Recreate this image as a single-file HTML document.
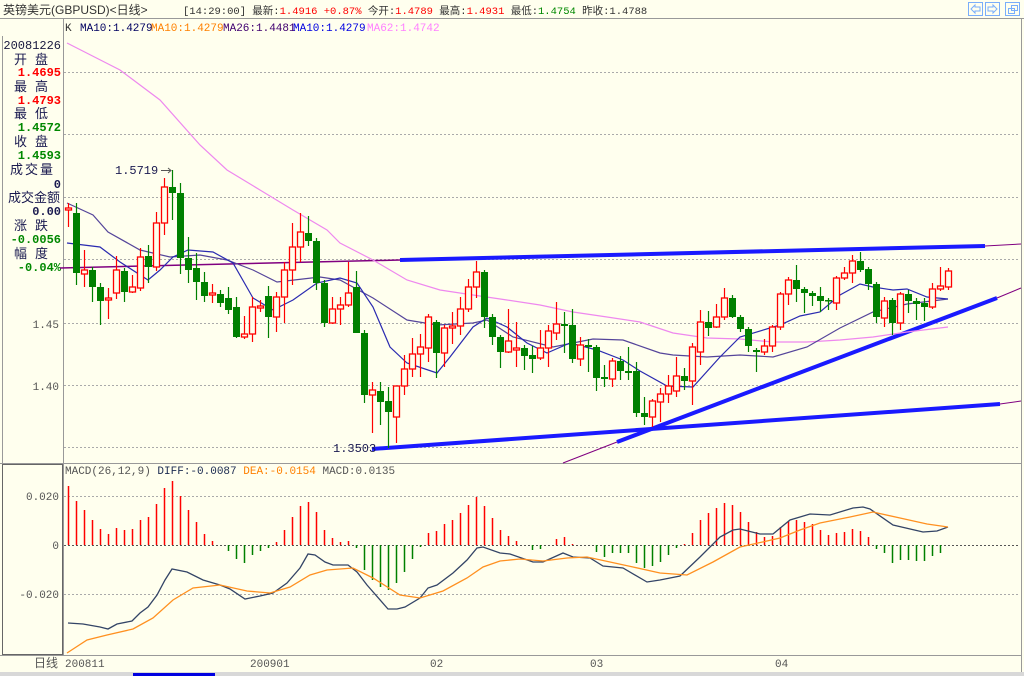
<!DOCTYPE html>
<html><head><meta charset="utf-8">
<style>
html,body{margin:0;padding:0;background:#FFFFEE;}
svg{display:block;}
text{font-family:"Liberation Mono","Noto Sans CJK SC",monospace;font-size:11px;}
.cn{font-family:"Liberation Sans","Noto Sans CJK SC",sans-serif;font-size:12px;}
.lab{font-family:"Liberation Sans","Noto Sans CJK SC",sans-serif;font-size:13px;fill:#1a1a50;}
.val{font-family:"Liberation Mono",monospace;font-size:12px;font-weight:bold;}
</style></head><body>
<svg id="s" width="1024" height="676" viewBox="0 0 1024 676" xmlns="http://www.w3.org/2000/svg">
<rect width="1024" height="676" fill="#FFFFEE"/>
<line x1="0" y1="18.5" x2="1024" y2="18.5" stroke="#999"/>
<line x1="63.5" y1="19" x2="63.5" y2="655" stroke="#999"/>
<line x1="1021.5" y1="19" x2="1021.5" y2="676" stroke="#999"/>
<line x1="2.5" y1="36" x2="2.5" y2="463" stroke="#999"/>
<line x1="0" y1="463.5" x2="1022" y2="463.5" stroke="#999"/>
<rect x="2.5" y="464.5" width="60" height="190" fill="none" stroke="#666"/>
<line x1="0" y1="655.5" x2="1022" y2="655.5" stroke="#999"/>
<rect x="0" y="672" width="1024" height="4" fill="#d8d8d8"/>
<rect x="133" y="673" width="82" height="3" fill="#0000e0"/>
<g fill="none" stroke="#7aaefa">
<rect x="968.5" y="2.5" width="14" height="13"/><rect x="985.5" y="2.5" width="14" height="13"/><rect x="1005.5" y="2.5" width="14" height="13"/>
<path d="M971 9 l4 -4 v2 h5 v4 h-5 v2 z"/><path d="M997 9 l-4 -4 v2 h-5 v4 h5 v2 z"/>
<rect x="1008.5" y="8.5" width="6" height="5"/><rect x="1011.5" y="5.5" width="6" height="5"/>
</g>
<g stroke="#aaa" stroke-dasharray="2,2">
<line x1="64" y1="72.5" x2="1020" y2="72.5"/><line x1="64" y1="134.5" x2="1020" y2="134.5"/>
<line x1="64" y1="197.5" x2="1020" y2="197.5"/><line x1="64" y1="259.5" x2="1020" y2="259.5"/>
<line x1="64" y1="323.5" x2="1020" y2="323.5"/><line x1="64" y1="385.5" x2="1020" y2="385.5"/>
<line x1="64" y1="447.5" x2="1020" y2="447.5"/>
<line x1="64" y1="496.5" x2="1020" y2="496.5"/><line x1="64" y1="594.5" x2="1020" y2="594.5"/>
</g>
<line x1="64" y1="545.5" x2="1020" y2="545.5" stroke="#555" stroke-dasharray="2,2"/>
<text x="3" y="14" class="cn" fill="#333">英镑美元(GBPUSD)&lt;日线&gt;</text>
<text x="183" y="14" fill="#333" style="font-size:10.5px">[14:29:00] 最新:<tspan fill="#f00">1.4916 +0.87%</tspan> 今开:<tspan fill="#f00">1.4789</tspan> 最高:<tspan fill="#f00">1.4931</tspan> 最低:<tspan fill="#080">1.4754</tspan> 昨收:1.4788</text>
<g style="font-size:10px">
<text x="65" y="31" fill="#333">K</text>
<text x="80" y="31" fill="#000060">MA10:1.4279</text>
<text x="151" y="31" fill="#ff8000">MA10:1.4279</text>
<text x="223" y="31" fill="#400070">MA26:1.4481</text>
<text x="293" y="31" fill="#0000e0">MA10:1.4279</text>
<text x="367" y="31" fill="#ff80ff">MA62:1.4742</text>
</g>
<text x="61" y="49" text-anchor="end" fill="#1a1a40" style="font-size:12px">20081226</text>
<text x="14" y="64" class="lab" letter-spacing="8">开盘</text>
<text x="61" y="76" text-anchor="end" class="val" fill="#f00">1.4695</text>
<text x="14" y="91" class="lab" letter-spacing="8">最高</text>
<text x="61" y="104" text-anchor="end" class="val" fill="#f00">1.4793</text>
<text x="14" y="118" class="lab" letter-spacing="8">最低</text>
<text x="61" y="131" text-anchor="end" class="val" fill="#080">1.4572</text>
<text x="14" y="146" class="lab" letter-spacing="8">收盘</text>
<text x="61" y="159" text-anchor="end" class="val" fill="#080">1.4593</text>
<text x="10" y="174" class="lab" letter-spacing="2">成交量</text>
<text x="61" y="188" text-anchor="end" class="val" fill="#1a1a50">0</text>
<text x="8" y="202" class="lab">成交金额</text>
<text x="61" y="215" text-anchor="end" class="val" fill="#1a1a50">0.00</text>
<text x="14" y="230" class="lab" letter-spacing="8">涨跌</text>
<text x="61" y="243" text-anchor="end" class="val" fill="#080">-0.0056</text>
<text x="14" y="258" class="lab" letter-spacing="8">幅度</text>
<text x="61" y="271" text-anchor="end" class="val" fill="#080">-0.04%</text>
<g fill="#555" text-anchor="end" style="font-size:12px">
<text x="59" y="328">1.45</text><text x="59" y="390">1.40</text>
<text x="59" y="500">0.020</text><text x="59" y="549">0</text><text x="59" y="598">-0.020</text>
</g>
<text x="58" y="667" text-anchor="end" class="cn" fill="#555">日线</text>
<g fill="#555"><text x="65" y="667">200811</text><text x="250" y="667">200901</text><text x="430" y="667">02</text><text x="590" y="667">03</text><text x="775" y="667">04</text></g>
<text x="65" y="474" fill="#555">MACD(26,12,9) <tspan fill="#1a2a50">DIFF:-0.0087</tspan> <tspan fill="#ff8000">DEA:-0.0154</tspan> MACD:0.0135</text>
<g fill="none">
<polyline points="60,268 400,260" stroke="#800080" stroke-width="1.5"/>
<polyline points="400,260 985,246" stroke="#1a1aff" stroke-width="4"/>
<polyline points="985,246 1021,244" stroke="#800080"/>
<polyline points="372,449 1000,404" stroke="#1a1aff" stroke-width="4"/>
<polyline points="1000,404 1021,401" stroke="#800080"/>
<polyline points="563,463 617,442" stroke="#800080"/>
<polyline points="617,442 997,298" stroke="#1a1aff" stroke-width="4"/>
<polyline points="997,298 1021,288" stroke="#800080"/>
</g>
<g fill="none" stroke-width="1.2">
<polyline stroke="#ee88ee" points="67,43 120,70 160,100 200,145 227,170 260,190 293,210 327,230 340,243 373,260 407,280 440,290 473,295 507,300 540,305 573,312 607,317 640,322 673,333 707,338 740,339 773,342 807,342 840,340 873,337 907,332 948,327"/>
<polyline stroke="#55459a" points="67,203 93,215 108,232 140,250 170,257 200,255 227,260 253,270 277,282 320,277 340,280 373,298 407,320 437,325 473,323 487,320 513,337 553,347 573,343 593,339 623,340 660,353 673,355 707,357 740,355 773,357 807,347 840,328 873,312 907,304 948,299"/>
<polyline stroke="#2a2ab0" points="67,243 100,247 120,262 148,280 160,270 173,257 188,250 213,252 233,263 253,298 273,310 293,300 317,283 340,278 357,283 373,307 390,347 407,363 437,373 450,357 473,327 487,318 507,327 527,343 547,353 570,343 597,350 623,360 640,371 667,386 693,387 720,357 740,337 780,325 800,316 820,312 840,295 860,284 873,287 893,290 907,289 927,297 948,299"/>
</g>
<g id="candles"></g>
<g id="macd"></g>
<g fill="none" stroke-width="1.3">
<polyline stroke="#334466" points="68,623 83,624 100,627 108,629 117,624 132,621 140,613 148,607 157,595 165,580 172,569 187,572 203,580 220,585 230,589 245,599 260,596 273,593 287,583 300,568 308,554 315,555 325,562 333,565 348,565 357,572 367,585 388,609 397,609 405,607 420,598 428,588 437,585 453,573 467,560 477,548 483,547 500,553 510,554 533,562 543,562 563,553 573,557 590,558 603,566 623,568 647,582 660,580 680,576 700,557 720,537 733,530 740,529 760,534 773,534 790,520 810,514 830,515 853,508 863,507 870,509 893,525 923,532 937,531 948,527"/>
<polyline stroke="#ff9020" points="67,653 87,640 107,635 133,629 153,618 173,600 193,588 220,585 247,591 270,593 290,587 310,575 327,570 353,568 373,578 400,595 420,598 443,591 467,578 483,567 500,561 520,559 543,561 567,558 587,557 610,562 633,567 660,573 687,575 713,562 740,547 767,541 780,538 800,530 820,523 850,517 873,512 900,518 927,524 948,527"/>
</g>
<text x="115" y="174" fill="#1a1a50" style="font-size:12px">1.5719</text>
<path d="M161 170.5 H171 M168 168 L171 170.5 L168 173" stroke="#555" fill="none"/>
<text x="333" y="452" fill="#1a1a50" style="font-size:12px">1.3503</text>
</svg>
<script>
var C=[[208,210,203,227,'r'],[213,273,203,285,'g'],[270,274,250,287,'r'],[270,287,267,302,'g'],[287,301,283,325,'g'],[298,300,288,319,'r'],[270,293,256,299,'r'],[271,292,268,302,'g'],[287,292,275,293,'r'],[257,288,248,291,'r'],[256,267,245,283,'g'],[223,267,212,271,'r'],[187,223,178,235,'r'],[187,193,170,220,'g'],[193,258,183,274,'g'],[258,270,237,283,'g'],[268,282,253,300,'g'],[282,296,272,302,'g'],[293,295,284,303,'r'],[294,303,290,307,'g'],[298,310,287,314,'g'],[307,337,297,338,'g'],[334,337,316,339,'r'],[307,334,297,342,'r'],[306,308,300,312,'r'],[296,317,286,338,'g'],[297,317,292,332,'r'],[270,297,262,323,'r'],[247,270,223,285,'r'],[232,247,213,262,'r'],[233,241,216,246,'g'],[241,283,238,290,'g'],[283,323,280,327,'g'],[309,323,297,324,'r'],[305,309,297,325,'r'],[293,305,262,307,'r'],[287,333,271,333,'g'],[333,395,330,403,'g'],[390,395,382,433,'r'],[391,402,382,425,'g'],[401,412,387,448,'g'],[386,417,386,443,'r'],[369,386,355,395,'r'],[354,369,338,377,'r'],[347,354,334,377,'r'],[317,348,314,362,'r'],[322,353,320,378,'g'],[328,353,325,367,'r'],[326,328,312,344,'r'],[309,326,297,335,'r'],[287,309,279,312,'r'],[272,287,261,298,'r'],[272,317,270,328,'g'],[317,337,314,345,'g'],[337,352,335,368,'g'],[341,352,309,353,'r'],[348,350,322,367,'r'],[348,356,345,370,'g'],[355,359,346,373,'g'],[348,358,330,360,'r'],[331,348,325,367,'r'],[324,333,302,340,'r'],[324,326,312,353,'g'],[325,359,309,363,'g'],[345,359,337,366,'r'],[345,347,339,372,'g'],[347,378,345,391,'g'],[377,379,365,387,'g'],[361,379,358,387,'r'],[361,371,356,380,'g'],[371,373,347,380,'g'],[371,413,362,417,'g'],[413,417,397,425,'g'],[401,417,399,427,'r'],[394,402,388,422,'r'],[386,394,375,403,'r'],[376,391,357,397,'r'],[376,381,368,390,'g'],[347,381,343,405,'r'],[322,352,310,365,'r'],[322,328,311,336,'g'],[317,327,304,328,'r'],[298,317,288,320,'r'],[298,317,295,318,'g'],[317,329,315,332,'g'],[329,346,327,352,'g'],[350,352,348,372,'g'],[346,352,339,355,'r'],[327,346,325,352,'r'],[294,327,292,330,'r'],[280,294,277,305,'r'],[280,289,265,302,'g'],[289,293,287,313,'g'],[293,296,291,306,'g'],[296,301,287,312,'g'],[300,301,298,310,'g'],[278,303,276,310,'r'],[273,278,267,280,'r'],[261,273,255,283,'r'],[261,270,252,272,'g'],[269,284,267,290,'g'],[284,317,282,323,'g'],[301,318,297,327,'r'],[300,323,298,335,'g'],[294,323,292,330,'r'],[294,301,290,313,'g'],[301,304,298,320,'g'],[303,307,298,321,'g'],[289,307,283,309,'r'],[286,289,267,291,'r'],[271,287,268,290,'r']];
var M=[486,501,510,520,529,534,528,530,529,520,517,504,488,481,496,510,522,534,541,545,551,559,563,555,551,548,542,530,517,506,502,512,530,538,542,541,548,570,580,587,590,583,572,559,547,533,531,524,520,513,505,497,506,518,530,536,541,545,550,549,545,539,537,544,545,545,552,557,553,553,553,563,568,566,562,555,548,544,533,520,513,508,503,505,512,522,532,537,536,527,521,520,522,524,530,535,533,532,529,531,537,549,553,563,560,560,561,561,556,553,545];
var g=document.getElementById('candles'),h='';
C.forEach(function(c,i){var x=68+8*i,col=c[4]=='r'?'#ff0000':'#008000';
h+='<line x1="'+(x+.5)+'" y1="'+c[2]+'" x2="'+(x+.5)+'" y2="'+c[3]+'" stroke="'+col+'" stroke-width="1.2"/>';
var hh=Math.max(c[1]-c[0],1.5);
if(c[4]=='r')h+='<rect x="'+(x-2.5)+'" y="'+c[0]+'" width="6" height="'+hh+'" fill="#FFFFEE" stroke="'+col+'" stroke-width="1.3"/>';
else h+='<rect x="'+(x-3)+'" y="'+c[0]+'" width="7" height="'+hh+'" fill="'+col+'"/>';});
g.innerHTML=h;h='';
M.forEach(function(v,i){var x=68+8*i+.5;if(Math.abs(v-545)<1)return;
h+='<line x1="'+x+'" y1="545" x2="'+x+'" y2="'+v+'" stroke="'+(v<545?'#ff0000':'#008000')+'" stroke-width="1.5"/>';});
document.getElementById('macd').innerHTML=h;
</script>
</body></html>
